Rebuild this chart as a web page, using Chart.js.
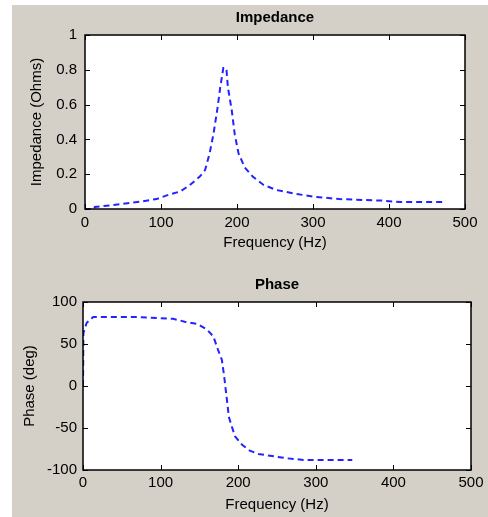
<!DOCTYPE html>
<html>
<head>
<meta charset="utf-8">
<script src="https://cdn.jsdelivr.net/npm/chart.js@4/dist/chart.umd.min.js"></script>
<style>
  html, body { margin: 0; padding: 0; background: #fff; }
  #panel { position: absolute; left: 12px; top: 5px; width: 476px; height: 512px; background: #d4d0c8; }
  .box { position: absolute; left: 12px; width: 476px; height: 255px; }
  #topBox { top: 5px; }
  #bottomBox { top: 262px; }
</style>
</head>
<body>
<div id="panel"></div>
<div class="box" id="topBox"><canvas id="impedanceChart"></canvas></div>
<div class="box" id="bottomBox"><canvas id="phaseChart"></canvas></div>
<script>
const freqTicks = [0, 100, 200, 300, 400, 500];

const impFreq = [0, 12, 13, 37, 72, 94, 112, 125, 138, 151, 158, 164, 169, 174, 178, 182, 186, 188, 193, 197, 202, 210, 221, 235, 252, 274, 300, 335, 392, 415, 472];
const impValues = [0.0, 0.0, 0.012, 0.023, 0.042, 0.057, 0.085, 0.10, 0.138, 0.186, 0.224, 0.32, 0.43, 0.57, 0.70, 0.81, 0.81, 0.70, 0.57, 0.43, 0.32, 0.24, 0.185, 0.138, 0.109, 0.09, 0.071, 0.057, 0.048, 0.04, 0.04];

const phaseFreq = [0, 0.5, 4.6, 13, 28, 71, 116, 131, 147, 160, 168, 174, 179, 182, 185, 188, 192, 196, 205, 215, 226, 241, 262, 284, 347];
const phaseValues = [0, 63, 75, 82, 82, 82, 80, 76.6, 74, 67, 59, 43, 31, 11, -13, -37, -49, -60, -70, -77, -81, -83, -86, -88, -88];

const impTicks = [0, 0.2, 0.4, 0.6, 0.8, 1];
const phaseTicks = [-100, -50, 0, 50, 100];

const FONT = "'Liberation Sans', Arial, sans-serif";
const lineBlue = 'rgb(35,35,255)';

// white plot area, black frame, inward ticks and a title centred on the axes
const matlabBox = {
  id: 'matlabBox',
  beforeDatasetsDraw(chart) {
    const { ctx, chartArea: a } = chart;
    ctx.save();
    ctx.fillStyle = '#fff';
    ctx.fillRect(a.left, a.top, a.right - a.left, a.bottom - a.top);
    ctx.restore();
  },
  afterDraw(chart, args, opts) {
    const { ctx, chartArea: a, scales } = chart;
    const len = 5;
    ctx.save();
    ctx.strokeStyle = '#000';
    ctx.lineWidth = 1;
    ctx.beginPath();
    scales.x.ticks.forEach((t) => {
      const px = Math.round(scales.x.getPixelForValue(t.value)) + 0.5;
      ctx.moveTo(px, a.bottom); ctx.lineTo(px, a.bottom - len);
      ctx.moveTo(px, a.top); ctx.lineTo(px, a.top + len);
    });
    scales.y.ticks.forEach((t) => {
      const py = Math.round(scales.y.getPixelForValue(t.value)) + 0.5;
      ctx.moveTo(a.left, py); ctx.lineTo(a.left + len, py);
      ctx.moveTo(a.right, py); ctx.lineTo(a.right - len, py);
    });
    ctx.stroke();
    ctx.lineWidth = 1.5;
    ctx.strokeRect(a.left, a.top, a.right - a.left, a.bottom - a.top);

    ctx.fillStyle = '#000';
    ctx.font = `bold 15px ${FONT}`;
    ctx.textAlign = 'center';
    ctx.textBaseline = 'middle';
    ctx.fillText(opts.text, (a.left + a.right) / 2, opts.y);
    ctx.restore();
  },
};

const fmtTick = (v) => String(+Number(v).toFixed(2));

const makeChart = (canvasId, cfg) => {
  const points = cfg.xs.map((x, i) => ({ x, y: cfg.ys[i] }));
  return new Chart(document.getElementById(canvasId), {
    type: 'line',
    data: {
      datasets: [{
        data: points,
        borderColor: lineBlue,
        borderWidth: 2,
        borderDash: [6, 4],
        pointRadius: 0,
        tension: 0,
        fill: false,
      }],
    },
    options: {
      responsive: true,
      maintainAspectRatio: false,
      animation: false,
      layout: { padding: { left: 0, right: cfg.rightPad, top: cfg.topPad, bottom: 0 } },
      plugins: {
        legend: { display: false },
        tooltip: { enabled: false },
        title: { display: false },
        matlabBox: { text: cfg.title, y: cfg.titleY },
      },
      scales: {
        x: {
          type: 'linear',
          min: 0, max: 500,
          afterBuildTicks: (s) => { s.ticks = freqTicks.map((v) => ({ value: v })); },
          afterFit: (s) => { s.height = cfg.xHeight; },
          grid: { display: false, drawTicks: false },
          border: { display: false },
          ticks: { color: '#000', font: { family: FONT, size: 15 }, padding: cfg.xTickPad, maxRotation: 0, autoSkip: false, callback: fmtTick },
          title: { display: true, text: 'Frequency (Hz)', color: '#000', font: { family: FONT, size: 15 }, padding: { top: 0, bottom: cfg.xTitlePad } },
        },
        y: {
          min: cfg.yMin, max: cfg.yMax,
          afterBuildTicks: (s) => { s.ticks = cfg.yTicks.map((v) => ({ value: v })); },
          afterFit: (s) => { s.width = cfg.yWidth; },
          grid: { display: false, drawTicks: false },
          border: { display: false },
          ticks: { color: '#000', font: { family: FONT, size: 15 }, padding: cfg.yTickPad, autoSkip: false, callback: fmtTick },
          title: { display: true, text: cfg.yLabel, color: '#000', font: { family: FONT, size: 15 }, padding: { top: cfg.yTitlePad, bottom: 0 } },
        },
      },
    },
    plugins: [matlabBox],
  });
};

makeChart('impedanceChart', {
  xs: impFreq, ys: impValues,
  title: 'Impedance', titleY: 13, topPad: 30,
  yLabel: 'Impedance (Ohms)', yMin: 0, yMax: 1, yTicks: impTicks,
  rightPad: 23, xHeight: 51, yWidth: 73,
  xTickPad: 5, xTitlePad: 8, yTickPad: 8, yTitlePad: 16,
});

makeChart('phaseChart', {
  xs: phaseFreq, ys: phaseValues,
  title: 'Phase', titleY: 23, topPad: 40,
  yLabel: 'Phase (deg)', yMin: -100, yMax: 100, yTicks: phaseTicks,
  rightPad: 17, xHeight: 47, yWidth: 71,
  xTickPad: 4, xTitlePad: 3, yTickPad: 6, yTitlePad: 9,
});
</script>
</body>
</html>
